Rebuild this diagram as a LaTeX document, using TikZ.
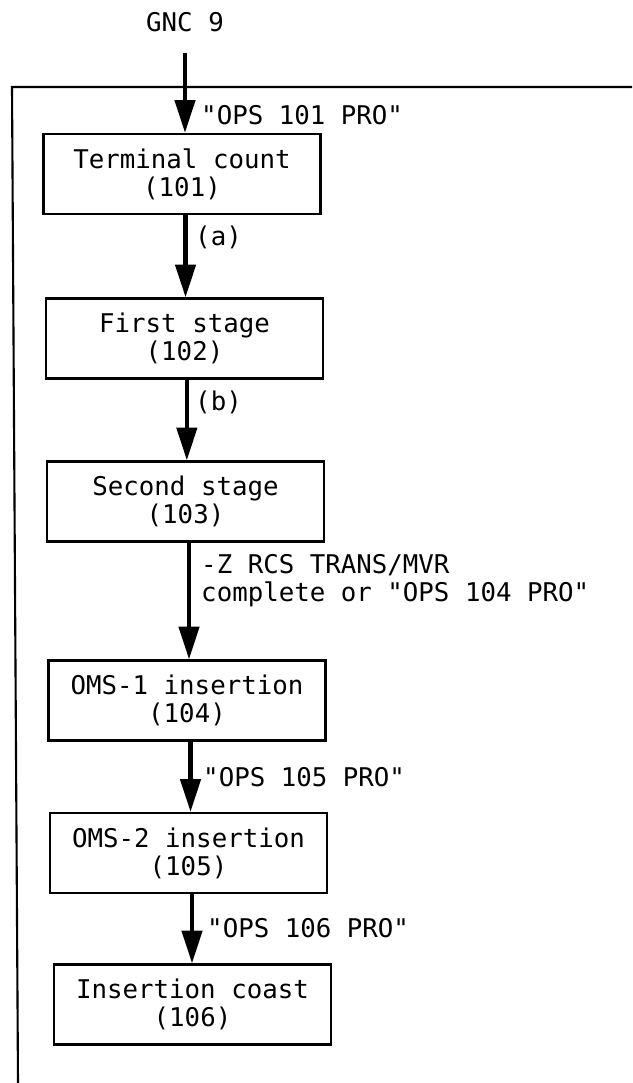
\documentclass[tikz,border=0pt]{standalone}
\usepackage{fontspec}
\setmonofont{DejaVu Sans Mono}
\usetikzlibrary{arrows.meta}
\tikzset{
    opbox/.style={draw=black, line width=1.8pt, minimum width=8.31cm, minimum height=2.4cm,
        align=center, inner sep=0pt, font=\ttfamily\fontsize{22}{24}\selectfont},
    lbl/.style={anchor=west, inner sep=0pt, align=left, font=\ttfamily\fontsize{22}{24}\selectfont},
    flow/.style={line width=4pt, -{Triangle[length=28pt,width=17pt]}},
}
\begin{document}
\begin{tikzpicture}[x=0.03cm, y=-0.03cm]
        \useasboundingbox (0,0) rectangle (632,1083);
        % рамка
        \draw[line width=1.8pt] (632,87) -- (12,87) -- (18,1083);
        % блоки
        \node[lbl, anchor=center] (gnc) at (185,22) {GNC 9};
        \node[opbox] (count) at (182,174) {Terminal count\\(101)};
        \node[opbox] (first) at (184.5,338.5) {First stage\\(102)};
        \node[opbox] (second) at (185.5,501.5) {Second stage\\(103)};
        \node[opbox] (oms1) at (187,700.5) {OMS-1 insertion\\(104)};
        \node[opbox] (oms2) at (188.5,853) {OMS-2 insertion\\(105)};
        \node[opbox] (coast) at (192.5,1004.5) {Insertion coast\\(106)};
        \coordinate (entry) at (185,53);

        % стрелки
        \draw[flow] (entry) -- (entry |- count.north);
        \draw[flow] ([xshift=3pt]count.south) -- ([xshift=3pt]count.south |- first.north);
        \draw[flow] ([xshift=2pt]first.south) -- ([xshift=2pt]first.south |- second.north);
        \draw[flow] ([xshift=3pt]second.south) -- ([xshift=3pt]second.south |- oms1.north);
        \draw[flow] ([xshift=3pt]oms1.south) -- ([xshift=3pt]oms1.south |- oms2.north);
        \draw[flow] ([xshift=3pt]oms2.south) -- ([xshift=3pt]oms2.south |- coast.north);

        % подписи
        \node[lbl] (ops101) at (201,115) {"OPS 101 PRO"};
        \node[lbl] (cond a) at (195,237) {(a)};
        \node[lbl] (cond b) at (195,402) {(b)};
        \node[lbl] (ops104) at (201,581) {-Z RCS TRANS/MVR\\complete or "OPS 104 PRO"};
        \node[lbl] (ops105) at (203,777) {"OPS 105 PRO"};
        \node[lbl] (ops106) at (207,928) {"OPS 106 PRO"};
    \end{tikzpicture}
\end{document}
